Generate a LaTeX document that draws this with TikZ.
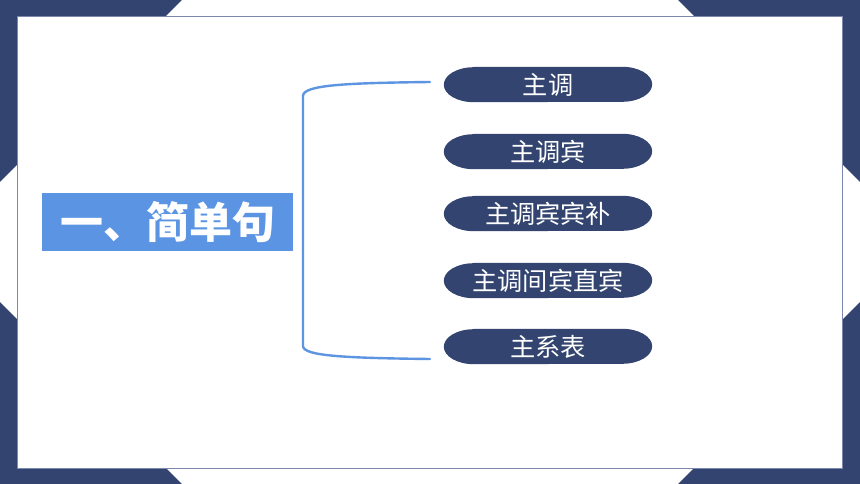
\documentclass[tikz,border=0pt]{standalone}
\usepackage{fontspec}
\newfontfamily\cjk{Noto Sans CJK SC}
\usetikzlibrary{calc,backgrounds}
\definecolor{navy}{HTML}{32446F}
\definecolor{titleblue}{HTML}{5B94E3}
\definecolor{bracketblue}{HTML}{5E95E2}
\definecolor{frameline}{HTML}{7D89AC}
\tikzset{
  pill/.style={minimum width=208pt, minimum height=35pt, inner sep=0pt, text=white, font=\cjk\fontsize{25.2}{27}\selectfont},
  titlebox/.style={fill=titleblue, minimum width=251pt, minimum height=58pt, inner sep=0pt, text=white, font=\cjk\bfseries\fontsize{43}{46}\selectfont},
  bracket/.style={draw=bracketblue, line width=2.4pt, line cap=round}
}
\begin{document}
\begin{tikzpicture}[x=1pt,y=-1pt]
\useasboundingbox (0,0) rectangle (860,484);
% nodes
\node[titlebox] (title) at (167.5,222) {一、简单句};
\node[pill] (p1) at (548,84.5) {主调};
\node[pill] (p2) at (548,151.5) {主调宾};
\node[pill] (p3) at (548,213.5) {主调宾宾补};
\node[pill] (p4) at (548,280.5) {主调间宾直宾};
\node[pill] (p5) at (548,346.5) {主系表};
\coordinate (bt) at (430,82);
\coordinate (bb) at (430,359);
% bracket
\draw[bracket] (bt) .. controls (345,83) and (303,85) .. (303,96) -- (303,346) .. controls (303,356) and (345,358) .. (bb);
\begin{scope}[on background layer]
  \fill[white] (0,0) rectangle (860,484);
  \fill[navy] (0,0) -- (182,0) -- (0,182) -- cycle;
  \fill[navy] (678,0) -- (860,0) -- (860,182) -- cycle;
  \fill[navy] (0,302) -- (0,484) -- (182,484) -- cycle;
  \fill[navy] (678,484) -- (860,484) -- (860,302) -- cycle;
  \filldraw[fill=white, draw=frameline, line width=0.8pt] (17,16) rectangle (842,468);
  \foreach \n in {p1,p2,p3,p4,p5}{
    \fill[navy] ($(\n.north west)+(30,0)$) -- ($(\n.north east)+(-30,0)$)
      arc[start angle=-90, end angle=90, x radius=30, y radius=17.5]
      -- ($(\n.south west)+(30,0)$)
      arc[start angle=90, end angle=270, x radius=30, y radius=17.5] -- cycle;
  }
\end{scope}
\end{tikzpicture}
\end{document}
